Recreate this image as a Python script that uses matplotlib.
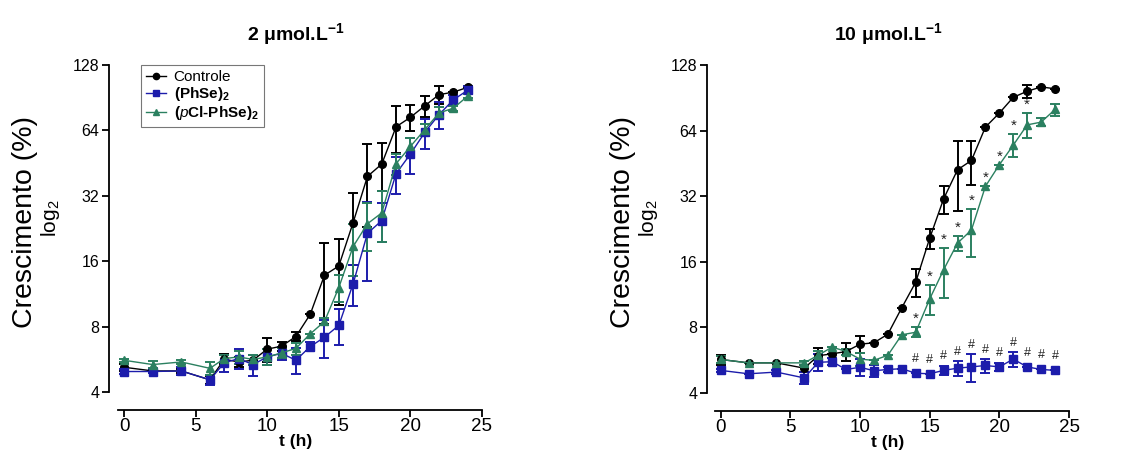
import matplotlib.pyplot as plt
import numpy as np
from matplotlib.lines import Line2D
from matplotlib.ticker import FixedLocator, FixedFormatter, NullLocator

plt.rcParams['font.family'] = ['Liberation Sans', 'DejaVu Sans']
plt.rcParams['mathtext.fontset'] = 'custom'
plt.rcParams['mathtext.rm'] = 'Liberation Sans'
plt.rcParams['mathtext.it'] = 'Liberation Sans:italic'
plt.rcParams['mathtext.bf'] = 'Liberation Sans:bold'

# time points (h)
t = [0, 2, 4, 6, 7, 8, 9, 10, 11, 12, 13, 14, 15, 16, 17, 18, 19, 20, 21, 22, 23, 24]

# 2 umol/L
ctrl2 = [5.2, 5.0, 5.0, 4.55, 5.66, 5.5, 5.6, 6.3, 6.5, 7.2, 9.1, 13.8, 15.2, 24.1, 39.3, 44.8, 66.5, 73.5, 83, 93.5, 96, 101]
ctrl2_err = [0.2, 0.1, 0.1, 0.2, 0.3, 0.3, 0.3, 0.8, 0.3, 0.35, 0, 5.6, 5.1, 8.8, 16.4, 11, 16, 10, 9.4, 9, 0, 0]
phse2 = [4.97, 4.97, 5.0, 4.55, 5.45, 5.7, 5.35, 5.8, 6.03, 5.6, 6.47, 7.15, 8.1, 12.6, 21.5, 24.6, 40.5, 49.8, 62.6, 75.7, 88.5, 98]
phse2_err = [0.15, 0.1, 0.2, 0.25, 0.5, 0.6, 0.6, 0.5, 0.4, 0.75, 0.3, 1.4, 1.5, 2.7, 8.5, 4.9, 8, 9.5, 10, 11, 5, 4]
pcl2 = [5.6, 5.35, 5.5, 5.14, 5.7, 5.8, 5.65, 5.8, 6.05, 6.35, 7.4, 8.45, 12.1, 18.7, 23.8, 26.7, 45, 54, 64.5, 77, 81, 92]
pcl2_err = [0.1, 0.2, 0.1, 0.35, 0.2, 0.4, 0.3, 0.5, 0.3, 0.4, 0, 0.3, 1.7, 5, 6, 7, 5, 5, 4, 5, 2, 2]

# 10 umol/L
ctrl10 = [5.7, 5.5, 5.5, 5.2, 5.93, 6.05, 6.2, 6.7, 6.8, 7.45, 9.85, 12.9, 20.5, 31.1, 42.3, 46.7, 66.4, 77, 91, 97, 101.5, 99.6]
ctrl10_err = [0.3, 0, 0, 0.2, 0.5, 0, 0.6, 0.6, 0, 0, 0, 1.9, 2.1, 4.6, 15, 10.5, 0, 0, 0, 7, 0, 0]
phse10 = [5.08, 4.9, 4.99, 4.69, 5.53, 5.57, 5.13, 5.25, 5.06, 5.13, 5.17, 4.93, 4.9, 5.08, 5.2, 5.27, 5.35, 5.27, 5.72, 5.27, 5.13, 5.08]
phse10_err = [0.1, 0, 0.1, 0.3, 0.5, 0.2, 0, 0.45, 0.3, 0.15, 0, 0, 0, 0.25, 0.4, 0.8, 0.4, 0.2, 0.45, 0, 0, 0]
pcl10 = [5.7, 5.5, 5.5, 5.5, 5.96, 6.5, 6.2, 5.72, 5.65, 5.96, 7.4, 7.6, 10.8, 14.7, 19.5, 22.4, 35.5, 44.6, 54.9, 68, 70, 80]
pcl10_err = [0.2, 0, 0, 0.1, 0.3, 0, 0.2, 0.4, 0, 0, 0, 0.4, 1.7, 3.8, 1.5, 5.5, 0, 0, 6.6, 9, 3, 5]

star_t = [14, 15, 16, 17, 18, 19, 20, 21, 22]
hash_t = [14, 15, 16, 17, 18, 19, 20, 21, 22, 23, 24]

labels = ['Controle', r'(PhSe)$_\mathbf{2}$', r'($\mathbf{\mathit{p}}$Cl-PhSe)$_\mathbf{2}$']
colors = ['black', '#1c1cab', '#2b8060']
markers = ['o', 's', '^']
msizes = [5.5, 5.5, 6]

fig = plt.figure(figsize=(11.35, 4.55), dpi=100)
ax1 = fig.add_axes([109 / 1135, 1 - 392 / 455, (482 - 109) / 1135, 327 / 455])
ax2 = fig.add_axes([707 / 1135, 1 - 393 / 455, (1069 - 707) / 1135, 328 / 455])


def draw(ax, series, title, xstart):
    for (y, e), c, m, ms, lab in zip(series, colors, markers, msizes, labels):
        ax.errorbar(t, y, yerr=e, color=c, marker=m, markersize=ms, lw=1.0,
                    elinewidth=1.4, capsize=3.5, capthick=1.4, label=lab)
    ax.set_yscale('log', base=2)
    ax.set_ylim(4, 128)
    ax.set_xlim(xstart, 25)
    yt = [4, 8, 16, 32, 64, 128]
    ax.yaxis.set_major_locator(FixedLocator(yt))
    ax.yaxis.set_major_formatter(FixedFormatter([str(v) for v in yt]))
    ax.yaxis.set_minor_locator(NullLocator())
    ax.set_xticks([0, 5, 10, 15, 20, 25])
    ax.spines['top'].set_visible(False)
    ax.spines['right'].set_visible(False)
    ax.spines['bottom'].set_position(('outward', 13))
    ax.spines['bottom'].set_bounds(-0.4, 25)
    ax.spines['left'].set_linewidth(1.3)
    ax.spines['bottom'].set_linewidth(1.3)
    ax.tick_params(axis='y', labelsize=11.5, length=5, width=1.3, pad=2)
    ax.tick_params(axis='x', labelsize=13.5, length=5, width=1.3, pad=1)
    ax.set_xlabel('t (h)', fontsize=12.5, fontweight='bold', labelpad=-1)
    ax.set_title(title, fontsize=14, fontweight='bold', pad=18)


draw(ax1, [(ctrl2, ctrl2_err), (phse2, phse2_err), (pcl2, pcl2_err)],
     '2 μmol.L$^{\\mathbf{-1}}$', -1.05)
draw(ax2, [(ctrl10, ctrl10_err), (phse10, phse10_err), (pcl10, pcl10_err)],
     '10 μmol.L$^{\\mathbf{-1}}$', -0.98)

handles = [Line2D([], [], color=c, marker=m, markersize=ms - 1, lw=1.0)
           for c, m, ms in zip(colors, markers, msizes)]
leg = ax1.legend(handles, labels, loc='upper left', bbox_to_anchor=(0.085, 1.0),
                 fontsize=11, frameon=True, fancybox=False, edgecolor='#555555',
                 handlelength=1.3, handletextpad=0.5, labelspacing=0.05,
                 borderpad=0.35, borderaxespad=0)
leg.get_frame().set_linewidth(0.8)
for txt in leg.get_texts()[1:]:
    txt.set_fontweight('bold')

# significance marks on the 10 umol/L panel
for ti in star_t:
    i = t.index(ti)
    ax2.annotate('*', (ti, pcl10[i] + pcl10_err[i]), xytext=(0, 1), textcoords='offset points',
                 ha='center', va='bottom', fontsize=11, color='#222222')
for ti in hash_t:
    i = t.index(ti)
    top = max(phse10[i] + phse10_err[i], phse10[i] * 1.06)
    ax2.annotate('#', (ti, top), xytext=(0, 2), textcoords='offset points',
                 ha='center', va='bottom', fontsize=9, color='#222222')

for xc, xl in [(25, 50), (623, 649)]:
    fig.text(xc / 1135, 1 - 222 / 455, 'Crescimento (%)', rotation=90,
             ha='center', va='center', fontsize=20.5)
    fig.text(xl / 1135, 1 - 218 / 455, r'log$_2$', rotation=90,
             ha='center', va='center', fontsize=15)

fig.savefig('out.png', dpi=100)
